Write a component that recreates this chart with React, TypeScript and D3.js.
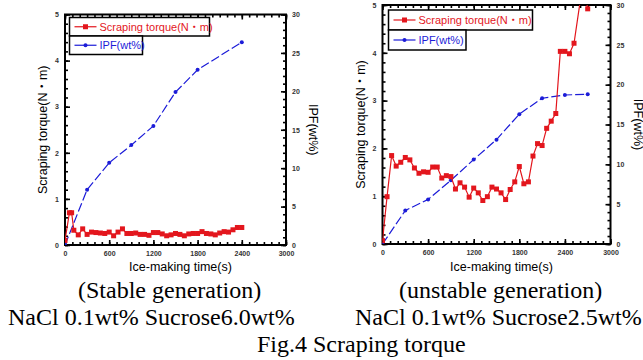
import { useEffect, useRef } from 'react'
import * as d3 from 'd3'

// shared axis ticks
const timeTicks = [0, 600, 1200, 1800, 2400, 3000]
const torqueTicks = [0, 1, 2, 3, 4, 5]
const ipfTicks = [0, 5, 10, 15, 20, 25, 30]

// stable generation (NaCl 0.1wt% Sucrose6.0wt%)
const stableTorqueTime = [
  0, 60, 90, 120, 180, 240, 300, 360, 420, 480, 540, 600, 660, 720, 780, 840, 900, 960, 1020, 1080, 1140, 1200,
  1260, 1320, 1380, 1440, 1500, 1560, 1620, 1680, 1740, 1800, 1860, 1920, 1980, 2040, 2100, 2160, 2220, 2280,
  2340, 2400,
]
const stableTorque = [
  0.1, 0.7, 0.7, 0.32, 0.22, 0.35, 0.23, 0.28, 0.27, 0.26, 0.25, 0.28, 0.2, 0.28, 0.35, 0.25, 0.25, 0.26, 0.23,
  0.23, 0.21, 0.27, 0.27, 0.24, 0.2, 0.22, 0.25, 0.23, 0.2, 0.24, 0.25, 0.25, 0.29, 0.25, 0.24, 0.22, 0.26, 0.29,
  0.28, 0.33, 0.38, 0.38,
]
const stableIpfTime = [0, 300, 600, 900, 1200, 1500, 1800, 2400]
const stableIpf = [0, 7.2, 10.7, 13.0, 15.5, 19.9, 22.8, 26.4]

// unstable generation (NaCl 0.1wt% Sucrose2.5wt%)
const unstableTorqueTime = [
  0, 60, 120, 180, 240, 300, 360, 420, 480, 540, 600, 660, 720, 780, 840, 900, 960, 1020, 1080, 1140, 1200, 1260,
  1320, 1380, 1440, 1500, 1560, 1620, 1680, 1740, 1800, 1860, 1920, 1980, 2040, 2100, 2160, 2220, 2280, 2340,
  2400, 2460, 2520, 2640, 2700,
]
const unstableTorque = [
  0.07, 0.99, 1.85, 1.63, 1.71, 1.81, 1.76, 1.59, 1.48, 1.51, 1.5, 1.61, 1.61, 1.38, 1.43, 1.41, 1.15, 1.28, 1.19,
  0.98, 1.17, 1.07, 0.91, 0.99, 1.19, 1.15, 1.07, 0.93, 1.14, 1.3, 1.62, 1.26, 1.3, 1.84, 2.1, 2.06, 2.42, 2.57,
  2.73, 4.03, 4.03, 3.98, 4.2, 5.5, 4.92,
]
const unstableIpfTime = [0, 300, 600, 900, 1200, 1500, 1800, 2100, 2400, 2700]
const unstableIpf = [0, 4.2, 5.6, 8.0, 10.6, 13.1, 16.3, 18.3, 18.7, 18.8]

const captions = [
  { text: '(Stable generation)', x: 78, y: 298 },
  { text: 'NaCl 0.1wt% Sucrose6.0wt%', x: 8, y: 325 },
  { text: '(unstable generation)', x: 399, y: 298 },
  { text: 'NaCl 0.1wt% Sucrose2.5wt%', x: 355, y: 325 },
  { text: 'Fig.4 Scraping torque', x: 257, y: 352 },
]

const RED = '#e3161d'
const BLUE = '#1c1cd8'
const SANS = '"Liberation Sans", Arial, "Noto Sans CJK JP", sans-serif'

interface Panel {
  id: string
  left: number
  right: number
  top: number
  bottom: number
  torqueTime: number[]
  torque: number[]
  ipfTime: number[]
  ipf: number[]
  legendX: number
  legendY: number
  legendW1: number
  legendW2: number
  legendH: number
}

const panels: Panel[] = [
  {
    id: 'p1', left: 65, right: 286, top: 14.5, bottom: 245,
    torqueTime: stableTorqueTime, torque: stableTorque, ipfTime: stableIpfTime, ipf: stableIpf,
    legendX: 69.5, legendY: 17.5, legendW1: 140, legendW2: 73, legendH: 18.5,
  },
  {
    id: 'p2', left: 382.5, right: 610.5, top: 5, bottom: 244,
    torqueTime: unstableTorqueTime, torque: unstableTorque, ipfTime: unstableIpfTime, ipf: unstableIpf,
    legendX: 388.5, legendY: 10, legendW1: 144, legendW2: 77.5, legendH: 20,
  },
]

function drawPanel(svg: d3.Selection<SVGSVGElement, unknown, null, undefined>, p: Panel) {
  const x = d3.scaleLinear().domain([0, 3000]).range([p.left, p.right])
  const yT = d3.scaleLinear().domain([0, 5]).range([p.bottom, p.top])
  const yI = d3.scaleLinear().domain([0, 30]).range([p.bottom, p.top])
  const w = p.right - p.left
  const h = p.bottom - p.top

  svg.append('clipPath').attr('id', `clip-${p.id}`)
    .append('rect').attr('x', p.left).attr('y', p.top).attr('width', w).attr('height', h)

  const styleAxis = (g: d3.Selection<SVGGElement, unknown, null, undefined>) => {
    g.select('.domain').remove()
    g.selectAll('line').attr('stroke', '#000').attr('stroke-width', 1.6)
    g.selectAll('text').attr('fill', '#333').attr('font-size', 7).attr('font-family', SANS).attr('font-weight', 'bold')
  }

  // minor ticks
  svg.append('g').attr('transform', `translate(0,${p.bottom})`)
    .call(d3.axisBottom(x).tickValues(d3.range(0, 3001, 100)).tickSize(-3).tickFormat(() => ''))
    .call(styleAxis)
  svg.append('g').attr('transform', `translate(0,${p.top})`)
    .call(d3.axisTop(x).tickValues(d3.range(0, 3001, 100)).tickSize(-3).tickFormat(() => ''))
    .call(styleAxis)
  svg.append('g').attr('transform', `translate(${p.left},0)`)
    .call(d3.axisLeft(yT).tickValues(d3.range(0, 5.01, 0.2)).tickSize(-3).tickFormat(() => ''))
    .call(styleAxis)
  svg.append('g').attr('transform', `translate(${p.right},0)`)
    .call(d3.axisRight(yI).tickValues(d3.range(0, 31, 1)).tickSize(-3).tickFormat(() => ''))
    .call(styleAxis)

  // major ticks + labels
  svg.append('g').attr('transform', `translate(0,${p.bottom})`)
    .call(d3.axisBottom(x).tickValues(timeTicks).tickSize(-5).tickPadding(6).tickFormat(d3.format('d')))
    .call(styleAxis)
  svg.append('g').attr('transform', `translate(0,${p.top})`)
    .call(d3.axisTop(x).tickValues(timeTicks).tickSize(-5).tickFormat(() => ''))
    .call(styleAxis)
  svg.append('g').attr('transform', `translate(${p.left},0)`)
    .call(d3.axisLeft(yT).tickValues(torqueTicks).tickSize(-5).tickPadding(6).tickFormat(d3.format('d')))
    .call(styleAxis)
  svg.append('g').attr('transform', `translate(${p.right},0)`)
    .call(d3.axisRight(yI).tickValues(ipfTicks).tickSize(-5).tickPadding(6).tickFormat(d3.format('d')))
    .call(styleAxis)

  // frame
  svg.append('rect').attr('x', p.left).attr('y', p.top).attr('width', w).attr('height', h)
    .attr('fill', 'none').attr('stroke', '#000').attr('stroke-width', 2)

  // axis titles
  svg.append('text').attr('x', (p.left + p.right) / 2 + 5).attr('y', 271)
    .attr('text-anchor', 'middle').attr('font-size', 12.5).attr('font-family', SANS).attr('fill', '#000')
    .text('Ice-making time(s)')
  const cy = (p.top + p.bottom) / 2
  svg.append('text').attr('transform', `translate(${p.left - 18},${cy}) rotate(-90)`)
    .attr('text-anchor', 'middle').attr('font-size', 12.5).attr('font-family', SANS).attr('fill', '#000')
    .text('Scraping torque(N・m)')
  svg.append('text').attr('transform', `translate(${p.right + 23},${cy}) rotate(90)`)
    .attr('text-anchor', 'middle').attr('font-size', 12.5).attr('font-family', SANS).attr('fill', '#000')
    .text('IPF(wt%)')

  const plot = svg.append('g').attr('clip-path', `url(#clip-${p.id})`)

  // IPF (dashed blue)
  const ipfPts = p.ipfTime.map((t, i) => [t, p.ipf[i]] as [number, number])
  plot.append('path').datum(ipfPts)
    .attr('fill', 'none').attr('stroke', BLUE).attr('stroke-width', 1.2).attr('stroke-dasharray', '9,3')
    .attr('d', d3.line<[number, number]>().x((d) => x(d[0])).y((d) => yI(d[1])))
  plot.selectAll('circle.ipf').data(ipfPts).join('circle')
    .attr('cx', (d) => x(d[0])).attr('cy', (d) => yI(d[1])).attr('r', 2).attr('fill', BLUE)

  // torque (red squares)
  const tqPts = p.torqueTime.map((t, i) => [t, p.torque[i]] as [number, number])
  plot.append('path').datum(tqPts)
    .attr('fill', 'none').attr('stroke', RED).attr('stroke-width', 1.2)
    .attr('d', d3.line<[number, number]>().x((d) => x(d[0])).y((d) => yT(d[1])))
  plot.selectAll('rect.tq').data(tqPts).join('rect')
    .attr('x', (d) => x(d[0]) - 2.5).attr('y', (d) => yT(d[1]) - 2.5).attr('width', 5).attr('height', 5)
    .attr('fill', RED)

  // legend
  const lg = svg.append('g').attr('transform', `translate(${p.legendX},${p.legendY})`)
  lg.append('rect').attr('width', p.legendW1).attr('height', p.legendH)
    .attr('fill', '#fff').attr('stroke', '#000').attr('stroke-width', 1.5)
  lg.append('rect').attr('y', p.legendH).attr('width', p.legendW2).attr('height', p.legendH)
    .attr('fill', '#fff').attr('stroke', '#000').attr('stroke-width', 1.5)
  const rows = [
    { label: 'Scraping torque(N・m)', color: RED, square: true },
    { label: 'IPF(wt%)', color: BLUE, square: false },
  ]
  rows.forEach((r, i) => {
    const yy = p.legendH * i + p.legendH / 2
    lg.append('line').attr('x1', 5).attr('x2', 27).attr('y1', yy).attr('y2', yy)
      .attr('stroke', r.color).attr('stroke-width', 1.2)
    if (r.square) {
      lg.append('rect').attr('x', 13.5).attr('y', yy - 2.5).attr('width', 5).attr('height', 5).attr('fill', r.color)
    } else {
      lg.append('circle').attr('cx', 16).attr('cy', yy).attr('r', 2).attr('fill', r.color)
    }
    lg.append('text').attr('x', 30).attr('y', yy + 4).attr('font-size', 11).attr('font-family', SANS)
      .attr('fill', r.color).text(r.label)
  })
}

export default function App() {
  const svgRef = useRef<SVGSVGElement>(null)

  useEffect(() => {
    if (!svgRef.current) return
    const svg = d3.select(svgRef.current)
    svg.selectAll('*').remove()

    panels.forEach((p) => drawPanel(svg, p))

    captions.forEach((c) => {
      svg.append('text').attr('x', c.x).attr('y', c.y)
        .attr('font-family', '"Liberation Serif", "Times New Roman", serif').attr('font-size', 24)
        .attr('fill', '#000').text(c.text)
    })
  }, [])

  return (
    <svg
      ref={svgRef}
      width={643}
      height={360}
      style={{ position: 'absolute', left: 0, top: 0, background: '#fff' }}
    ></svg>
  )
}
